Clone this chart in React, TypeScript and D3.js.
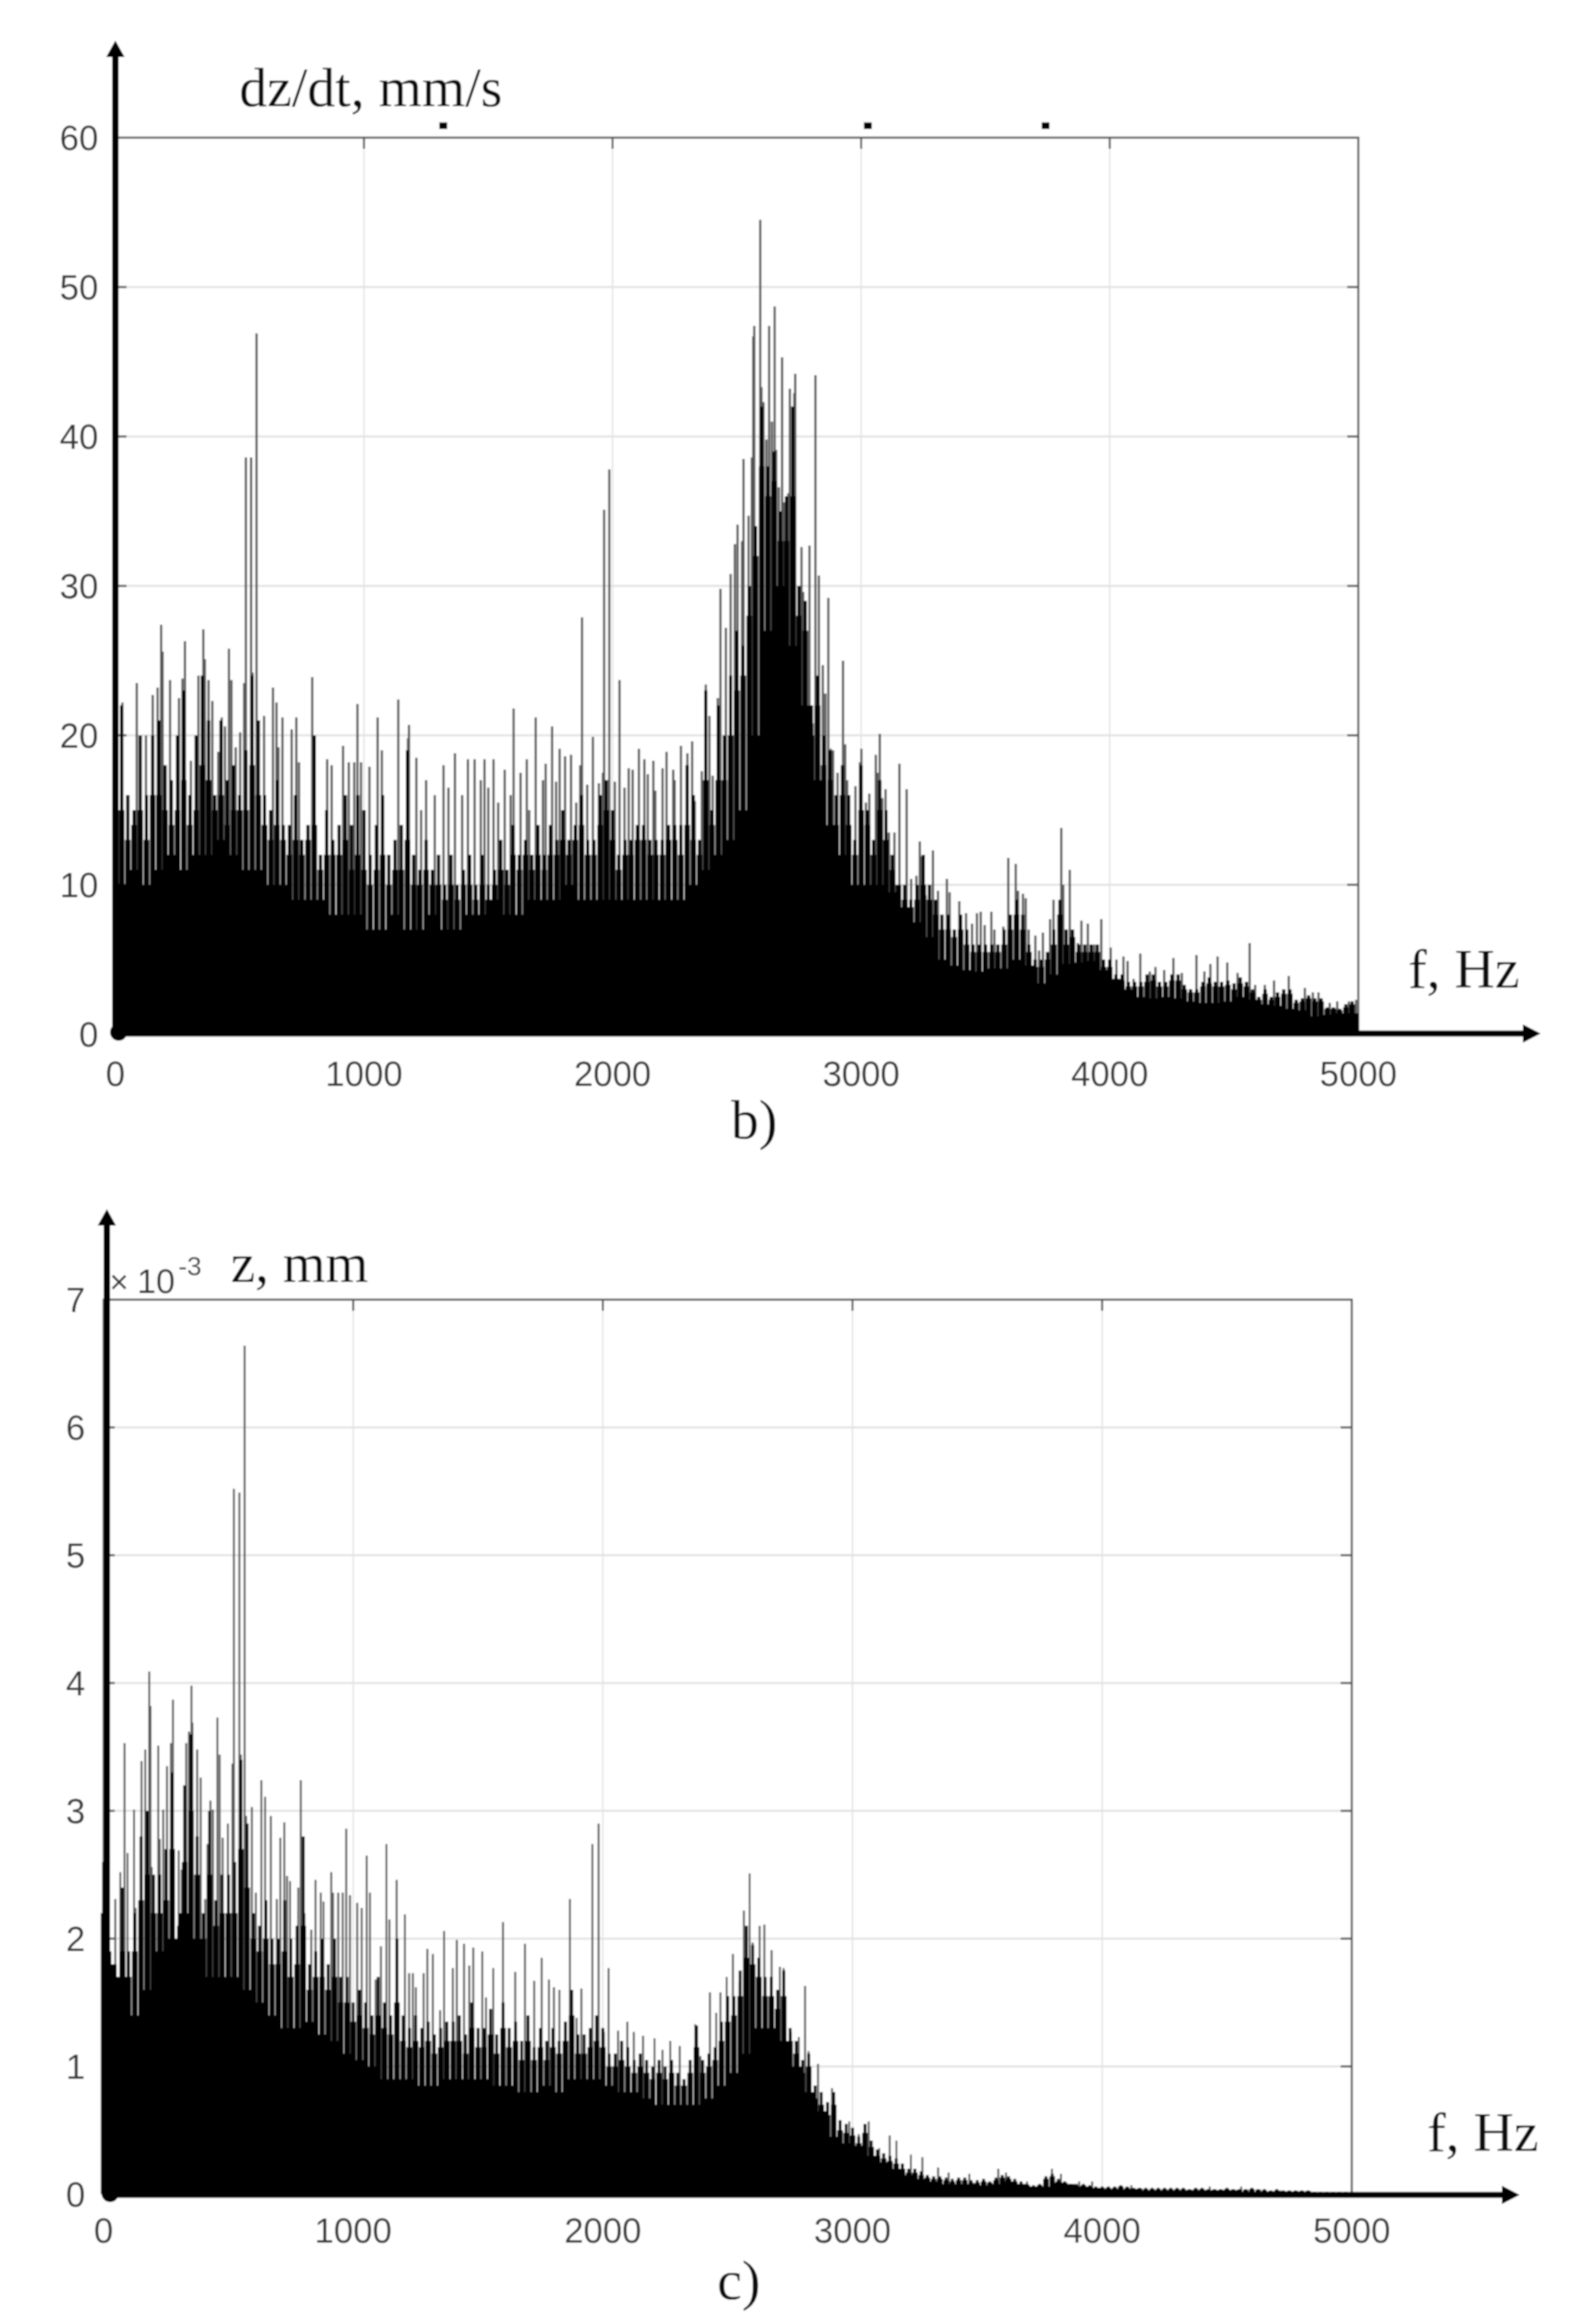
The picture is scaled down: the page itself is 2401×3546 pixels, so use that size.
import React from "react";
import * as d3 from "d3";

// ---------- shared ticks ----------
const xTicks = [0, 1000, 2000, 3000, 4000, 5000];
const yTicksB = [0, 10, 20, 30, 40, 50, 60];
const yTicksC = [0, 1, 2, 3, 4, 5, 6, 7];

// ---------- panel b: dz/dt, mm/s ----------
// solid floor of the spectrum (notch bottoms), one value per 50 Hz
const floorB = [
  10, 11, 10, 11, 12, 11, 12, 12, 13, 12, 11, 11, 10, 10, 9, 9, 9, 8, 8, 8,
  7, 7, 8, 7, 7, 8, 7, 7, 8, 8, 9, 8, 8, 9, 9, 9, 10, 9, 9, 9,
  9, 9, 9, 9, 9, 9, 10, 11, 12, 13, 15, 20, 27, 30, 26, 22, 17, 14, 12, 10,
  10, 10, 9.5, 8.5, 7.5, 6.5, 5, 4.6, 4.3, 4.2, 4.4, 4.4, 5, 4.6, 3.4, 4, 4.7, 4.8, 4.9, 4.3,
  3.7, 3, 2.5, 2.4, 2.5, 2.4, 2.2, 2.1, 2.1, 2.2, 2.5, 2.3, 2, 1.9, 1.7, 1.6, 1.2, 1.3, 1.4, 1.4,
];
// black envelope of the body, one value per 25 Hz
const midB = [
  17, 15, 13, 14, 15, 13, 16, 16, 15, 14, 15, 17, 14, 15, 18, 17, 15, 16, 14, 15,
  15, 15, 18, 16, 14, 13, 14, 13, 12, 13, 12, 13, 14, 11, 12, 12, 12, 13, 11, 12,
  11, 10, 11, 12, 10, 11, 11, 13, 10, 10, 11, 10, 10, 9, 10, 9, 10, 10, 9, 10,
  9, 10, 11, 10, 12, 11, 12, 11, 12, 11, 12, 12, 13, 12, 13, 14, 12, 12, 14, 15,
  13, 11, 12, 12, 13, 13, 12, 12, 12, 13, 13, 12, 14, 13, 12, 17, 14, 17, 17, 20,
  23, 24, 28, 32, 38, 36, 37, 33, 33, 36, 28, 27, 20, 22, 18, 17, 14, 16, 14, 12,
  15, 14, 12, 15, 13, 11, 10, 9, 8.5, 9, 10, 9, 8, 7, 7, 6.5, 7, 6, 5.5, 5.5,
  5.5, 5.5, 5.5, 6, 7, 8, 7, 5.5, 4.5, 4.5, 5, 6, 8, 6, 6.5, 5.5, 5.5, 5.5, 5.5, 4.5,
  4.5, 3.7, 3.6, 3.2, 3.2, 3.2, 3.5, 3.6, 3.2, 3.2, 3.6, 3.6, 3, 2.8, 2.8, 3.2, 3.4, 3.2, 3.2, 3.3,
  3, 3.4, 3.2, 2.8, 2.3, 2.7, 2.3, 2.5, 2.7, 2.7, 2.1, 2.2, 2.4, 2.2, 2.2, 1.7, 1.7, 1.6, 1.8, 2,
];
// dark stems, one value per 25 Hz
const stemB = [
  22, 22, 16, 15, 20, 16, 20, 21, 18, 17, 20, 23, 16, 20, 24, 21, 16, 21, 17, 18,
  16, 19, 24, 21, 16, 15, 17, 14, 14, 16, 13, 14, 20, 12, 15, 13, 14, 16, 14, 16,
  15, 12, 14, 16, 12, 13, 14, 19, 12, 11, 13, 11, 12, 10, 12, 10, 11, 12, 10, 12,
  10, 11, 13, 11, 14, 12, 13, 12, 14, 12, 14, 13, 15, 13, 14, 16, 13, 13, 16, 17,
  15, 12, 13, 13, 14, 14, 13, 13, 13, 14, 14, 14, 18, 16, 13, 23, 15, 22, 20, 24,
  27, 26, 30, 34, 42, 38, 39, 35, 36, 42, 30, 29, 22, 24, 20, 19, 16, 18, 16, 13,
  18, 15, 13, 17, 15, 12, 10, 10, 9, 10, 12, 10, 9, 8, 8, 7, 8, 7, 6, 6,
  6, 6, 6, 7, 8, 9, 8, 6, 5, 5, 5.5, 7, 9, 7, 7, 6, 6, 6, 6, 5,
  5, 4, 4, 3.5, 3.5, 3.5, 4, 4, 3.5, 3.5, 4, 4, 3.3, 3, 3, 3.5, 3.8, 3.5, 3.5, 3.6,
  3.4, 3.8, 3.5, 3, 2.5, 3, 2.5, 2.8, 3, 3, 2.3, 2.4, 2.6, 2.4, 2.4, 1.8, 1.8, 1.7, 2, 2.2,
];
// individual grey spikes: [frequency, value]
const spikesB: [number, number][] = [
  [28, 22.2], [86, 23.5], [123, 20], [150, 22.7], [170, 23.2], [184, 27.4], [190, 25.6], [220, 23.7], [256, 22.5], [270, 23.8],
  [280, 26.3], [304, 18.3], [334, 24], [354, 27.1], [360, 25.1], [375, 23.7], [390, 22.3], [414, 18.9], [428, 21.2], [441, 20.6],
  [457, 25.8], [467, 23.7], [484, 19.2], [502, 20.2], [518, 23.5], [525, 38.6], [546, 38.6], [552, 24.2], [568, 46.9], [575, 20.7],
  [598, 21.3], [634, 23.2], [648, 22.2], [656, 19.2], [672, 21.2], [709, 20.4], [728, 21.2], [739, 18.2], [792, 23.9], [852, 18.4],
  [870, 18], [916, 19.3], [939, 18.2], [961, 18.2], [974, 22.1], [988, 18.2], [1022, 17.9], [1055, 21.2], [1072, 19], [1138, 22.4],
  [1177, 19.8], [1181, 20.7], [1211, 18.5], [1230, 15], [1250, 17], [1285, 16], [1320, 18], [1340, 16.5], [1366, 18.8], [1395, 16],
  [1418, 18.4], [1445, 18.4], [1470, 17], [1485, 18.4], [1500, 16.5], [1521, 18.4], [1540, 15.5], [1566, 17.7], [1590, 16], [1602, 21.8],
  [1630, 17.5], [1655, 18.4], [1665, 15], [1691, 21.2], [1720, 17], [1731, 18.1], [1757, 20.6], [1773, 16.9], [1787, 19.1], [1809, 18.6],
  [1833, 18.7], [1854, 15.5], [1870, 18], [1877, 27.9], [1898, 16.7], [1921, 19.9], [1945, 16.8], [1961, 17.5], [1966, 35.1], [1987, 37.8],
  [2009, 16.9], [2028, 23.7], [2048, 16.5], [2065, 17.8], [2081, 17.7], [2106, 19.1], [2128, 18.4], [2142, 17.4], [2164, 18.3], [2172, 16.3],
  [2201, 17.8], [2217, 18.9], [2244, 17.7], [2250, 17], [2275, 19.3], [2301, 18.8], [2320, 19.6], [2331, 15.6], [2359, 17.6], [2375, 23.4],
  [2390, 21.3], [2403, 17.3], [2423, 22.5], [2434, 29.8], [2456, 27.2], [2475, 30.8], [2492, 32.8], [2503, 34.1], [2521, 33], [2527, 38.5],
  [2547, 34.7], [2560, 38.6], [2566, 46.7], [2570, 47.4], [2594, 54.5], [2599, 43.3], [2607, 42.3], [2619, 39.8], [2630, 47.4], [2641, 41],
  [2652, 48.7], [2658, 39.1], [2669, 36.6], [2682, 45.3], [2689, 35.6], [2707, 36.2], [2713, 43.2], [2731, 42.9], [2735, 44.2], [2746, 26.1],
  [2760, 32.6], [2767, 29.6], [2782, 20.5], [2792, 32.7], [2805, 20.8], [2816, 44.1], [2823, 23.6], [2830, 30.7], [2846, 24.7], [2856, 22.8],
  [2868, 29.2], [2878, 19.1], [2887, 19], [2905, 17.5], [2927, 25], [2936, 19.4], [2944, 17], [2977, 16.6], [2995, 18.2], [3001, 19.1],
  [3019, 15.5], [3033, 16.1], [3059, 18.7], [3065, 17.5], [3075, 20.1], [3085, 15.8], [3098, 16.4], [3112, 13.5], [3134, 13.5], [3154, 18.1],
  [3183, 16.4], [3201, 10.4], [3222, 10.6], [3236, 12.9], [3242, 11.9], [3259, 9.3], [3289, 12.3], [3309, 9.6], [3321, 6.6], [3345, 10.4],
  [3356, 9.5], [3395, 8.9], [3422, 8.1], [3446, 7.4], [3466, 8.1], [3481, 8.2], [3497, 7.3], [3524, 8.2], [3536, 7], [3552, 5.1],
  [3572, 7.2], [3592, 11.8], [3622, 11.4], [3631, 9.6], [3651, 9.4], [3662, 9.1], [3674, 7], [3701, 6.6], [3716, 5.6], [3731, 6.8],
  [3760, 7.7], [3774, 9], [3805, 13.8], [3813, 10], [3839, 11], [3872, 6.1], [3886, 7.6], [3912, 7.4], [3937, 6], [3966, 7.7],
  [4004, 5.8], [4027, 5], [4055, 5.2], [4072, 4.9], [4096, 3.7], [4123, 5.4], [4161, 4.2], [4184, 4.5], [4219, 4.3], [4256, 5.1],
  [4290, 4.1], [4326, 3], [4349, 5.3], [4381, 4.2], [4405, 4.7], [4434, 5.2], [4473, 4.8], [4514, 4.1], [4563, 6.1], [4585, 3.3],
  [4624, 3.3], [4661, 3.6], [4720, 3.9], [4785, 3.1], [4817, 2.8], [4840, 2.8], [4885, 2.1], [4915, 2.2], [4962, 2.2], [4991, 2.3],
];
// small specks printed above the top border of panel b
const specksB: [number, number][] = [[1319, 60.8], [3027, 60.8], [3742, 60.8]];

// ---------- panel c: z, mm (x 10^-3) ----------
const floorC = [
  1.8, 1.7, 1.4, 1.6, 1.9, 2.0, 2.2, 2.0, 1.7, 1.7, 1.7, 1.6, 1.5, 1.4, 1.3, 1.3, 1.35, 1.25, 1.2, 1.1,
  1.05, 1.0, 0.9, 0.9, 0.9, 0.85, 0.85, 0.9, 0.9, 0.9, 0.9, 0.85, 0.85, 0.8, 0.8, 0.85, 0.8, 0.9, 0.9, 0.9,
  0.85, 0.8, 0.8, 0.75, 0.7, 0.7, 0.7, 0.7, 0.75, 0.85, 0.95, 1.1, 1.3, 1.3, 1.2, 1.0, 0.8, 0.65, 0.45, 0.4,
  0.38, 0.3, 0.25, 0.2, 0.15, 0.12, 0.1, 0.08, 0.08, 0.08, 0.07, 0.08, 0.1, 0.08, 0.06, 0.06, 0.09, 0.08, 0.06, 0.05,
  0.04, 0.04, 0.04, 0.03, 0.03, 0.03, 0.03, 0.03, 0.03, 0.03, 0.03, 0.02, 0.02, 0.02, 0.02, 0.02, 0.01, 0.01, 0.01, 0.01,
];
const midC = [
  2.2, 1.8, 1.6, 1.9, 1.7, 1.9, 2.3, 2.5, 2.2, 2.2, 2.3, 2.7, 2.0, 2.6, 3.0, 2.5, 2.0, 2.5, 2.1, 2.2,
  2.2, 2.2, 2.7, 2.4, 2.0, 1.9, 2.0, 1.8, 1.8, 1.9, 1.7, 1.8, 2.1, 1.6, 1.7, 1.7, 1.6, 1.7, 1.5, 1.5,
  1.35, 1.4, 1.3, 1.25, 1.4, 1.3, 1.25, 1.5, 1.2, 1.15, 1.2, 1.15, 1.2, 1.1, 1.15, 1.2, 1.2, 1.2, 1.1, 1.3,
  1.15, 1.15, 1.25, 1.1, 1.3, 1.15, 1.2, 1.05, 1.2, 1.05, 1.15, 1.05, 1.15, 1.1, 1.2, 1.4, 1.1, 1.1, 1.15, 1.2,
  1.15, 1.0, 1.0, 1.05, 1.0, 0.95, 1.0, 0.95, 0.9, 0.95, 0.9, 0.95, 0.85, 0.85, 0.95, 1.15, 0.95, 1.0, 1.05, 1.2,
  1.35, 1.4, 1.55, 1.85, 1.8, 1.7, 1.55, 1.55, 1.45, 1.55, 1.2, 1.1, 0.95, 1.0, 0.75, 0.7, 0.62, 0.7, 0.5, 0.48,
  0.46, 0.4, 0.48, 0.37, 0.3, 0.28, 0.26, 0.24, 0.2, 0.17, 0.17, 0.15, 0.13, 0.12, 0.12, 0.11, 0.1, 0.11, 0.11, 0.09,
  0.09, 0.1, 0.09, 0.11, 0.13, 0.12, 0.1, 0.08, 0.07, 0.06, 0.07, 0.12, 0.14, 0.1, 0.09, 0.07, 0.06, 0.07, 0.06, 0.05,
  0.05, 0.05, 0.05, 0.06, 0.05, 0.045, 0.045, 0.04, 0.04, 0.04, 0.04, 0.04, 0.04, 0.04, 0.035, 0.04, 0.04, 0.035, 0.035, 0.035,
  0.04, 0.035, 0.035, 0.035, 0.04, 0.035, 0.03, 0.025, 0.03, 0.025, 0.025, 0.025, 0.025, 0.025, 0.015, 0.015, 0.015, 0.015, 0.015, 0.015,
];
const stemC = [
  2.6, 1.9, 1.7, 2.4, 1.9, 2.2, 2.8, 3.0, 2.5, 2.5, 2.7, 3.3, 2.1, 3.2, 3.6, 2.8, 2.2, 3.0, 2.3, 2.5,
  2.5, 2.6, 3.4, 2.9, 2.2, 2.1, 2.3, 2.0, 2.0, 2.3, 2.0, 2.1, 2.8, 1.8, 1.9, 2.0, 1.8, 2.0, 1.7, 1.7,
  1.5, 1.6, 1.5, 1.4, 1.7, 1.5, 1.4, 2.0, 1.4, 1.3, 1.4, 1.3, 1.35, 1.25, 1.3, 1.35, 1.35, 1.4, 1.25, 1.5,
  1.3, 1.3, 1.45, 1.25, 1.5, 1.3, 1.35, 1.2, 1.4, 1.15, 1.3, 1.2, 1.3, 1.2, 1.35, 1.6, 1.25, 1.25, 1.3, 1.4,
  1.3, 1.1, 1.1, 1.2, 1.15, 1.05, 1.1, 1.05, 1.0, 1.05, 1.0, 1.05, 0.95, 0.9, 1.05, 1.32, 1.05, 1.1, 1.15, 1.35,
  1.55, 1.55, 1.75, 2.1, 1.95, 1.85, 1.7, 1.7, 1.6, 1.75, 1.3, 1.2, 1.05, 1.1, 0.85, 0.8, 0.72, 0.8, 0.58, 0.55,
  0.52, 0.45, 0.55, 0.42, 0.35, 0.32, 0.3, 0.28, 0.24, 0.2, 0.2, 0.18, 0.15, 0.14, 0.14, 0.13, 0.12, 0.13, 0.13, 0.11,
  0.11, 0.12, 0.1, 0.13, 0.15, 0.14, 0.12, 0.1, 0.08, 0.07, 0.08, 0.14, 0.16, 0.12, 0.1, 0.08, 0.07, 0.08, 0.07, 0.06,
  0.06, 0.06, 0.06, 0.07, 0.06, 0.05, 0.05, 0.05, 0.05, 0.05, 0.05, 0.05, 0.05, 0.05, 0.04, 0.05, 0.05, 0.04, 0.04, 0.04,
  0.05, 0.04, 0.04, 0.04, 0.05, 0.04, 0.04, 0.03, 0.04, 0.03, 0.03, 0.03, 0.03, 0.03, 0.02, 0.02, 0.02, 0.02, 0.02, 0.02,
];
const spikesC: [number, number][] = [
  [5, 3.86], [10, 7], [47, 2.31], [67, 2.52], [84, 3.53], [96, 2.67], [122, 3.01], [128, 2.24], [152, 3.39], [167, 3.48],
  [183, 4.09], [188, 3.82], [193, 2.56], [219, 3.51], [225, 2.78], [239, 3.01], [254, 3.35], [270, 3.53], [278, 3.87], [301, 2.69],
  [313, 2.54], [331, 3.53], [342, 3.62], [352, 3.98], [356, 3.69], [375, 3.48], [389, 3.26], [407, 2.31], [416, 2.74], [428, 3.08],
  [438, 3.01], [456, 3.73], [465, 3.44], [477, 2.79], [498, 2.9], [516, 3.37], [522, 5.52], [544, 5.49], [550, 3.44], [565, 6.64],
  [571, 2.96], [594, 3.03], [610, 2.36], [632, 3.24], [647, 3.11], [670, 2.96], [694, 2.31], [708, 2.79], [724, 2.91], [735, 2.49],
  [747, 2.45], [780, 2.4], [790, 3.24], [805, 2.2], [832, 2.07], [849, 2.46], [870, 2.36], [881, 2.29], [912, 2.52], [919, 2.36],
  [940, 2.36], [958, 2.36], [972, 2.86], [987, 2.34], [1016, 2.28], [1034, 2.24], [1054, 2.65], [1067, 2.36], [1090, 1.68], [1111, 1.94],
  [1133, 2.74], [1145, 2.15], [1174, 2.46], [1207, 2.19], [1224, 1.73], [1239, 1.73], [1251, 1.62], [1282, 1.73], [1297, 1.92], [1319, 1.88],
  [1348, 1.44], [1364, 2.06], [1399, 1.77], [1415, 1.99], [1444, 1.96], [1465, 1.79], [1481, 1.93], [1517, 1.9], [1532, 1.54], [1561, 1.77],
  [1600, 2.13], [1649, 1.74], [1688, 1.96], [1725, 1.67], [1755, 1.85], [1784, 1.68], [1804, 1.62], [1826, 1.6], [1868, 2.31], [1895, 1.38],
  [1914, 1.61], [1958, 2.74], [1983, 2.9], [2004, 1.27], [2023, 1.77], [2061, 1.28], [2098, 1.35], [2124, 1.27], [2161, 1.24], [2207, 1.22],
  [2239, 1.13], [2270, 1.2], [2308, 1.16], [2370, 1.33], [2391, 1.08], [2429, 1.58], [2454, 1.42], [2471, 1.58], [2496, 1.7], [2521, 1.88],
  [2548, 1.66], [2565, 2.22], [2588, 2.51], [2600, 1.97], [2628, 2.1], [2647, 2.11], [2676, 1.91], [2709, 1.78], [2724, 1.77], [2753, 1.27],
  [2785, 1.23], [2810, 1.63], [2824, 1.12], [2862, 1.02], [2918, 0.83], [2929, 0.62], [2987, 0.57], [3025, 0.47], [3065, 0.57], [3107, 0.36],
  [3149, 0.46], [3176, 0.42], [3234, 0.31], [3280, 0.29], [3343, 0.21], [3385, 0.17], [3468, 0.16], [3584, 0.2], [3615, 0.17], [3699, 0.1],
  [3799, 0.2], [3835, 0.16], [3908, 0.1], [3960, 0.1], [4117, 0.07], [4431, 0.06], [4557, 0.06], [4713, 0.03],
];

const GRID = "#e2e2e2";
const FRAME = "#555555";
const LABEL = "#383838";
const SANS = "'Liberation Sans', Arial, sans-serif";
const SERIF = "'Liberation Serif', 'Times New Roman', serif";

type PanelProps = {
  x0: number; x1: number; yTop: number; yBottom: number; yMax: number;
  yTicks: number[]; floor: number[]; mid: number[]; stems: number[]; spikes: [number, number][];
  midW: number; stemW: number; spikeW: number; labelRight: number; xLabelY: number;
  axisX: number; axisY: number; arrowTop: number; arrowRight: number;
};

function Panel(p: PanelProps) {
  const x = d3.scaleLinear().domain([0, 5000]).range([p.x0, p.x1]);
  const y = d3.scaleLinear().domain([0, p.yMax]).range([p.yBottom, p.yTop]);
  const floorStep = 50;
  const stemStep = 25;
  const floorW = x(floorStep) - x(0) + 1;
  return (
    <g>
      {xTicks.slice(1, -1).map((t) => (
        <line key={"gx" + t} x1={x(t)} x2={x(t)} y1={p.yTop} y2={p.yBottom} stroke={GRID} strokeWidth={2} />
      ))}
      {p.yTicks.slice(1, -1).map((t) => (
        <line key={"gy" + t} x1={p.x0} x2={p.x1} y1={y(t)} y2={y(t)} stroke={GRID} strokeWidth={3} />
      ))}
      <rect x={p.x0} y={p.yTop} width={p.x1 - p.x0} height={p.yBottom - p.yTop} fill="none" stroke={FRAME} strokeWidth={3} />
      {xTicks.slice(1, -1).map((t) => (
        <line key={"tx" + t} x1={x(t)} x2={x(t)} y1={p.yTop} y2={p.yTop + 17} stroke={FRAME} strokeWidth={3} />
      ))}
      {p.yTicks.slice(1, -1).map((t) => (
        <g key={"ty" + t}>
          <line x1={p.x0} x2={p.x0 + 17} y1={y(t)} y2={y(t)} stroke={FRAME} strokeWidth={3} />
          <line x1={p.x1 - 17} x2={p.x1} y1={y(t)} y2={y(t)} stroke={FRAME} strokeWidth={3} />
        </g>
      ))}
      {p.spikes.map(([f, v], i) => (
        <rect key={"s" + i} x={x(f) - p.spikeW / 2} y={y(v)} width={p.spikeW} height={y(0) - y(v)} fill="#585858" />
      ))}
      {p.stems.map((v, i) => (
        <rect key={"m" + i} x={x(i * stemStep) - p.stemW / 2} y={y(v)} width={p.stemW} height={y(0) - y(v)} fill="#000" />
      ))}
      {p.mid.map((v, i) => (
        <rect key={"e" + i} x={x(i * stemStep) - p.midW / 2} y={y(v)} width={p.midW} height={y(0) - y(v)} fill="#000" />
      ))}
      {p.floor.map((v, i) => (
        <rect key={"f" + i} x={x(i * floorStep)} y={y(v)} width={floorW} height={y(0) - y(v)} fill="#000" />
      ))}
      {xTicks.map((t) => (
        <text key={"lx" + t} x={x(t)} y={p.xLabelY} textAnchor="middle" fontFamily={SANS} fontSize={53} fill={LABEL}>{t}</text>
      ))}
      {p.yTicks.map((t) => (
        <text key={"ly" + t} x={p.labelRight} y={y(t) + 19} textAnchor="end" fontFamily={SANS} fontSize={53} fill={LABEL}>{t}</text>
      ))}
      <line x1={p.axisX} x2={p.axisX} y1={p.yBottom + 4} y2={p.arrowTop + 15} stroke="#000" strokeWidth={10} />
      <path d={`M${p.axisX - 14},${p.arrowTop + 25} L${p.axisX},${p.arrowTop} L${p.axisX + 14},${p.arrowTop + 25} Z`} fill="#000" />
      <line x1={p.x0} x2={p.arrowRight - 15} y1={p.axisY} y2={p.axisY} stroke="#000" strokeWidth={9} />
      <path d={`M${p.arrowRight - 27},${p.axisY - 14} L${p.arrowRight},${p.axisY} L${p.arrowRight - 27},${p.axisY + 14} Z`} fill="#000" />
      <circle cx={p.axisX + 5} cy={p.axisY - 2} r={13} fill="#000" />
    </g>
  );
}

export default function App() {
  const xB = d3.scaleLinear().domain([0, 5000]).range([176, 2072]);
  const yB = d3.scaleLinear().domain([0, 60]).range([1578, 210]);
  return (
    <svg width={2401} height={3546} viewBox="0 0 2401 3546" style={{ position: "absolute", left: 0, top: 0, display: "block", background: "#fff" }}>
      <defs>
        <filter id="soft" x="0" y="0" width="100%" height="100%" filterUnits="objectBoundingBox">
          <feGaussianBlur stdDeviation="0.8" />
        </filter>
      </defs>
      <g filter="url(#soft)">
        <rect x={0} y={0} width={2401} height={3546} fill="#fff" />
        <Panel x0={176} x1={2072} yTop={210} yBottom={1578} yMax={60} yTicks={yTicksB}
          floor={floorB} mid={midB} stems={stemB} spikes={spikesB} midW={8.5} stemW={5} spikeW={3.5}
          labelRight={150} xLabelY={1657} axisX={176} axisY={1577} arrowTop={62} arrowRight={2350} />
        {specksB.map(([f, v], i) => (
          <rect key={i} x={xB(f) - 6} y={yB(v) - 5} width={12} height={10} fill="#000" />
        ))}
        <text x={365} y={162} fontFamily={SERIF} fontSize={85} fill="#111">dz/dt, mm/s</text>
        <text x={2148} y={1507} fontFamily={SERIF} fontSize={85} fill="#111">f, Hz</text>
        <text x={1115} y={1737} fontFamily={SERIF} fontSize={85} fill="#111">b)</text>

        <Panel x0={158} x1={2062} yTop={1983} yBottom={3348} yMax={7} yTicks={yTicksC}
          floor={floorC} mid={midC} stems={stemC} spikes={spikesC} midW={8.5} stemW={4.5} spikeW={3}
          labelRight={130} xLabelY={3422} axisX={163} axisY={3349} arrowTop={1845} arrowRight={2318} />
        <text x={167} y={1973} fontFamily={SANS} fontSize={50} fill={LABEL}>×</text>
        <text x={209} y={1973} fontFamily={SANS} fontSize={52} fill={LABEL}>10</text>
        <text x={272} y={1946} fontFamily={SANS} fontSize={40} fill={LABEL}>-3</text>
        <text x={352} y={1956} fontFamily={SERIF} fontSize={84} fill="#111">z, mm</text>
        <text x={2177} y={3282} fontFamily={SERIF} fontSize={85} fill="#111">f, Hz</text>
        <text x={1094} y={3508} fontFamily={SERIF} fontSize={85} fill="#111">c)</text>
      </g>
    </svg>
  );
}
